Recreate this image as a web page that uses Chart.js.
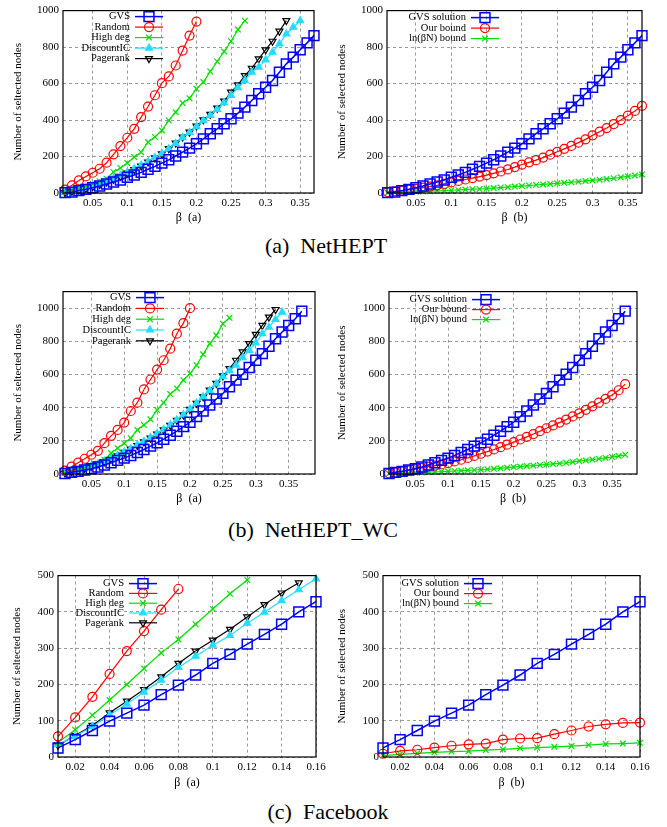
<!DOCTYPE html>
<html>
<head>
<meta charset="utf-8">
<script src="https://cdn.jsdelivr.net/npm/chart.js@4.4.0/dist/chart.umd.min.js"></script>
<style>
  body { margin: 0; background: #fff; width: 667px; height: 827px; position: relative; overflow: hidden; font-family: "Liberation Serif", "Times New Roman", serif; }
  canvas { position: absolute; }
  .cap { position: absolute; font-family: "Liberation Serif", "Times New Roman", serif; font-size: 22px; white-space: nowrap; transform: translate(-50%, -50%); color: #000; }
</style>
</head>
<body>
<canvas id="c1" width="330" height="230" style="left:0;top:0"></canvas>
<canvas id="c2" width="337" height="230" style="left:330px;top:0"></canvas>
<canvas id="c3" width="330" height="230" style="left:0;top:281px"></canvas>
<canvas id="c4" width="337" height="230" style="left:330px;top:281px"></canvas>
<canvas id="c5" width="330" height="230" style="left:0;top:565px"></canvas>
<canvas id="c6" width="337" height="230" style="left:330px;top:565px"></canvas>
<div class="cap" style="left:326px;top:246px">(a)&nbsp; NetHEPT</div>
<div class="cap" style="left:313px;top:530px">(b)&nbsp; NetHEPT_WC</div>
<div class="cap" style="left:328px;top:812px">(c)&nbsp; Facebook</div>

<script>
// beta values (x) for each data set
const betaLong = [0.01, 0.02, 0.03, 0.04, 0.05, 0.06, 0.07, 0.08, 0.09, 0.10,
  0.11, 0.12, 0.13, 0.14, 0.15, 0.16, 0.17, 0.18, 0.19, 0.20,
  0.21, 0.22, 0.23, 0.24, 0.25, 0.26, 0.27, 0.28, 0.29, 0.30,
  0.31, 0.32, 0.33, 0.34, 0.35, 0.36, 0.37];
const betaFb = [0.01, 0.02, 0.03, 0.04, 0.05, 0.06, 0.07, 0.08, 0.09, 0.10,
  0.11, 0.12, 0.13, 0.14, 0.15, 0.16];

// (a) NetHEPT
const gvsNet = [2, 5, 13, 20, 29, 38, 49, 60, 71, 86, 99, 113, 130, 146, 164, 182, 203, 224, 246, 270,
  297, 325, 352, 380, 407, 438, 471, 507, 544, 580, 617, 662, 708, 745, 785, 823, 863];
const randNet = [18, 42, 69, 91, 111, 133, 166, 212, 257, 303, 352, 416, 474, 536, 602, 639, 699, 781, 863, 940];
const hdNet = [5, 15, 24, 36, 51, 64, 78, 115, 137, 164, 197, 224, 279, 307, 343, 398, 443, 493, 520, 571,
  608, 666, 721, 776, 832, 896, 945];
const dicNet = [3, 10, 18, 28, 39, 51, 64, 80, 96, 114, 133, 152, 172, 195, 216, 243, 272, 304, 332, 364,
  396, 426, 458, 495, 535, 577, 617, 662, 690, 730, 772, 818, 872, 909, 945];
const prNet = [2, 9, 16, 26, 36, 47, 60, 75, 91, 109, 128, 148, 170, 193, 215, 243, 274, 307, 334, 367,
  401, 431, 465, 504, 553, 593, 644, 684, 735, 785, 832, 887, 945];
const ourNet = [5, 9, 13, 18, 23, 29, 35, 42, 50, 58, 66, 74, 82, 90, 98, 108, 118, 129, 142, 156,
  168, 180, 194, 210, 226, 242, 258, 276, 294, 316, 336, 356, 378, 400, 424, 450, 478];
const lnNet = [1, 2, 4, 5, 7, 8, 10, 12, 13, 15, 17, 19, 21, 22, 24, 27, 30, 32, 35, 38,
  41, 44, 47, 50, 53, 56, 59, 62, 66, 69, 73, 77, 81, 86, 91, 96, 102];

// (b) NetHEPT_WC
const gvsWC = [3, 10, 16, 24, 32, 42, 54, 68, 82, 96, 112, 130, 148, 168, 188, 210, 234, 258, 286, 312,
  346, 380, 416, 452, 486, 526, 566, 602, 642, 686, 726, 770, 816, 856, 896, 936, 982];
const randWC = [20, 44, 68, 92, 116, 140, 186, 230, 266, 310, 380, 430, 510, 570, 630, 686, 756, 846, 910, 1000];
const hdWC = [6, 16, 26, 36, 50, 62, 86, 126, 156, 186, 216, 266, 296, 330, 386, 430, 482, 516, 566, 606,
  656, 722, 786, 836, 906, 942];
const dicWC = [6, 15, 24, 36, 48, 62, 77, 95, 113, 133, 153, 175, 197, 220, 244, 268, 296, 326, 358, 392,
  428, 466, 504, 544, 588, 625, 656, 702, 746, 790, 846, 886, 932, 976];
const prWC = [6, 14, 22, 34, 46, 60, 74, 92, 110, 130, 150, 172, 194, 216, 240, 266, 294, 324, 356, 390,
  426, 466, 506, 546, 592, 636, 686, 736, 786, 842, 896, 946, 992];
const ourWC = [4, 9, 15, 22, 30, 37, 44, 51, 58, 66, 76, 86, 97, 109, 122, 135, 148, 162, 177, 192,
  208, 224, 241, 258, 276, 293, 310, 328, 347, 366, 387, 408, 430, 453, 476, 505, 542];
const lnWC = [2, 3, 4, 6, 7, 9, 11, 13, 14, 16, 18, 20, 22, 24, 26, 28, 31, 34, 38, 42,
  45, 48, 51, 54, 58, 61, 64, 68, 73, 78, 82, 87, 92, 97, 102, 108, 116];

// (c) Facebook
const gvsFb = [25, 48, 73, 99, 121, 143, 172, 198, 226, 258, 283, 311, 338, 366, 400, 428];
const randFb = [57, 109, 166, 229, 292, 347, 406, 463];
const hdFb = [40, 75, 115, 157, 200, 244, 287, 324, 366, 408, 450, 488];
const dicFb = [34, 57, 84, 116, 146, 179, 212, 247, 278, 308, 335, 369, 399, 431, 461, 491];
const prFb = [32, 59, 87, 122, 154, 186, 221, 258, 292, 322, 352, 386, 420, 452, 480];
const ourFb = [9, 17, 20, 26, 31, 35, 37, 48, 51, 52, 63, 73, 84, 90, 94, 95];
const lnFb = [4, 7, 10, 13, 15, 16, 19, 21, 24, 26, 28, 30, 33, 36, 37, 39];

// tick labels
const xTicksNet = [0.05, 0.1, 0.15, 0.2, 0.25, 0.3, 0.35];
const xTicksFb = [0.02, 0.04, 0.06, 0.08, 0.1, 0.12, 0.14, 0.16];
const yTicksNet = [0, 200, 400, 600, 800, 1000];
const yTicksFb = [0, 100, 200, 300, 400, 500];

const FONT = '"Liberation Serif", "Times New Roman", serif';

const styles = {
  gvs:  { color: '#0000ff', pointStyle: 'rect', radius: 7, width: 1.5, fill: 'rgba(0,0,0,0)' },
  rand: { color: '#ff0000', pointStyle: 'circle', radius: 4.5, width: 1.2, fill: 'rgba(0,0,0,0)' },
  hd:   { color: '#00dd00', pointStyle: 'crossRot', radius: 4, width: 1.2, fill: 'rgba(0,0,0,0)' },
  dic:  { color: '#22ddff', pointStyle: 'triangle', radius: 4, width: 1.2, fill: '#22ddff' },
  pr:   { color: '#000000', pointStyle: 'triangle', radius: 4, width: 1.2, fill: 'rgba(0,0,0,0)', rot: 180 }
};

function series(label, xs, ys, st) {
  return {
    label: label,
    data: ys.map((v, i) => ({ x: xs[i], y: v })),
    borderColor: st.color,
    borderWidth: st.width,
    pointStyle: st.pointStyle,
    pointRadius: st.radius,
    pointRotation: st.rot || 0,
    pointBorderColor: st.color,
    pointBorderWidth: st.width,
    pointBackgroundColor: st.fill,
    tension: 0,
    fill: false,
    clip: false
  };
}

// plot frame (gnuplot style border on all four sides)
const framePlugin = {
  id: 'frame',
  afterDraw(chart) {
    const a = chart.chartArea, ctx = chart.ctx;
    ctx.save();
    ctx.strokeStyle = '#000';
    ctx.lineWidth = 1.2;
    ctx.strokeRect(a.left, a.top, a.right - a.left, a.bottom - a.top);
    ctx.restore();
  }
};

// key: text on the left, line sample with marker on the right
const keyPlugin = {
  id: 'key',
  afterDatasetsDraw(chart, args, o) {
    const ctx = chart.ctx, a = chart.chartArea;
    ctx.save();
    ctx.font = '10.5px ' + FONT;
    ctx.textAlign = 'right';
    ctx.textBaseline = 'middle';
    chart.data.datasets.forEach((d, i) => {
      const y = a.top + o.y + i * o.gap;
      const xr = a.left + o.x;
      ctx.fillStyle = '#000';
      ctx.fillText(d.label, xr, y);
      ctx.strokeStyle = d.borderColor;
      ctx.lineWidth = d.borderWidth;
      ctx.beginPath();
      ctx.moveTo(xr + 5, y);
      ctx.lineTo(xr + 33, y);
      ctx.stroke();
      ctx.fillStyle = d.pointBackgroundColor;
      ctx.lineWidth = d.pointBorderWidth;
      Chart.helpers.drawPoint(ctx, {
        pointStyle: d.pointStyle, rotation: d.pointRotation, radius: d.pointRadius, borderWidth: d.pointBorderWidth
      }, xr + 19, y);
    });
    ctx.restore();
  }
};

function fmt(v) { return String(Math.round(v * 100) / 100); }

function makeChart(id, p, datasets) {
  const c = document.getElementById(id);
  return new Chart(c.getContext('2d'), {
    type: 'line',
    data: { datasets: datasets },
    plugins: [framePlugin, keyPlugin],
    options: {
      responsive: false,
      animation: false,
      events: [],
      layout: { padding: { left: 0, top: p.top - p.ct, right: p.cl + c.width - p.right, bottom: 0 } },
      plugins: {
        legend: { display: false },
        tooltip: { enabled: false },
        key: { x: p.keyX, y: p.keyY, gap: p.keyGap }
      },
      scales: {
        x: {
          type: 'linear',
          min: p.xmin,
          max: p.xmax,
          afterBuildTicks: s => { s.ticks = p.xticks.map(v => ({ value: v })); },
          afterFit: s => { s.height = c.height - (p.bottom - p.ct); },
          ticks: { callback: v => fmt(v), color: '#000', font: { family: FONT, size: 11 }, padding: 3.5, maxRotation: 0, autoSkip: false },
          grid: { color: '#9a9a9a', lineWidth: 1, drawTicks: false },
          border: { display: false, dash: [3, 3] },
          title: { display: true, text: p.xtitle, color: '#000', font: { family: FONT, size: 12 }, padding: { top: 0, bottom: 5 } }
        },
        y: {
          min: 0,
          max: p.ymax,
          afterBuildTicks: s => { s.ticks = p.yticks.map(v => ({ value: v })); },
          afterFit: s => { s.width = p.left - p.cl; },
          ticks: { callback: v => String(v), color: '#000', font: { family: FONT, size: 11 }, padding: 4 },
          grid: { color: '#9a9a9a', lineWidth: 1, drawTicks: false },
          border: { display: false, dash: [3, 3] },
          title: { display: true, text: p.ytitle, color: '#000', font: { family: FONT, size: 11 }, padding: { top: p.ytPad, bottom: 0 } }
        }
      }
    }
  });
}

const yLeft = 'Number of seltected nodes';
const yRight = 'Number of selected nodes';

makeChart('c1', { cl: 0, ct: 0, left: 63, right: 314, top: 10, bottom: 193, xmin: 0.007, xmax: 0.37, ymax: 1000,
  xticks: xTicksNet, yticks: yTicksNet, xtitle: 'β  (a)', ytitle: yLeft, ytPad: 11.4, keyX: 67, keyY: 6, keyGap: 10.5 }, [
  series('GVS', betaLong, gvsNet, styles.gvs),
  series('Random', betaLong, randNet, styles.rand),
  series('High deg', betaLong, hdNet, styles.hd),
  series('DiscountIC', betaLong, dicNet, styles.dic),
  series('Pagerank', betaLong, prNet, styles.pr)
]);

makeChart('c2', { cl: 330, ct: 0, left: 387, right: 642, top: 10, bottom: 193, xmin: 0.009, xmax: 0.37, ymax: 1000,
  xticks: xTicksNet, yticks: yTicksNet, xtitle: 'β  (b)', ytitle: yRight, ytPad: 5.9, keyX: 79, keyY: 7, keyGap: 10.5 }, [
  series('GVS solution', betaLong, gvsNet, styles.gvs),
  series('Our bound', betaLong, ourNet, styles.rand),
  series('ln(βN) bound', betaLong, lnNet, styles.hd)
]);

makeChart('c3', { cl: 0, ct: 281, left: 63, right: 315, top: 291, bottom: 474, xmin: 0.007, xmax: 0.39, ymax: 1100,
  xticks: xTicksNet, yticks: yTicksNet, xtitle: 'β  (a)', ytitle: yLeft, ytPad: 11.4, keyX: 68, keyY: 6, keyGap: 10.8 }, [
  series('GVS', betaLong, gvsWC, styles.gvs),
  series('Random', betaLong, randWC, styles.rand),
  series('High deg', betaLong, hdWC, styles.hd),
  series('DiscountIC', betaLong, dicWC, styles.dic),
  series('Pagerank', betaLong, prWC, styles.pr)
]);

makeChart('c4', { cl: 330, ct: 281, left: 389, right: 637, top: 291, bottom: 474, xmin: 0.01, xmax: 0.388, ymax: 1100,
  xticks: xTicksNet, yticks: yTicksNet, xtitle: 'β  (b)', ytitle: yRight, ytPad: 5.9, keyX: 78, keyY: 8, keyGap: 10 }, [
  series('GVS solution', betaLong, gvsWC, styles.gvs),
  series('Our bound', betaLong, ourWC, styles.rand),
  series('ln(βN) bound', betaLong, lnWC, styles.hd)
]);

makeChart('c5', { cl: 0, ct: 565, left: 58, right: 316, top: 575, bottom: 757, xmin: 0.01, xmax: 0.16, ymax: 500,
  xticks: xTicksFb, yticks: yTicksFb, xtitle: 'β  (a)', ytitle: yLeft, ytPad: 10.9, keyX: 66, keyY: 8, keyGap: 9.8 }, [
  series('GVS', betaFb, gvsFb, styles.gvs),
  series('Random', betaFb, randFb, styles.rand),
  series('High deg', betaFb, hdFb, styles.hd),
  series('DiscountIC', betaFb, dicFb, styles.dic),
  series('Pagerank', betaFb, prFb, styles.pr)
]);

makeChart('c6', { cl: 330, ct: 565, left: 383, right: 640, top: 575, bottom: 757, xmin: 0.01, xmax: 0.16, ymax: 500,
  xticks: xTicksFb, yticks: yTicksFb, xtitle: 'β  (b)', ytitle: yRight, ytPad: 5.4, keyX: 76, keyY: 8, keyGap: 10 }, [
  series('GVS solution', betaFb, gvsFb, styles.gvs),
  series('Our bound', betaFb, ourFb, styles.rand),
  series('ln(βN) bound', betaFb, lnFb, styles.hd)
]);
</script>
</body>
</html>
